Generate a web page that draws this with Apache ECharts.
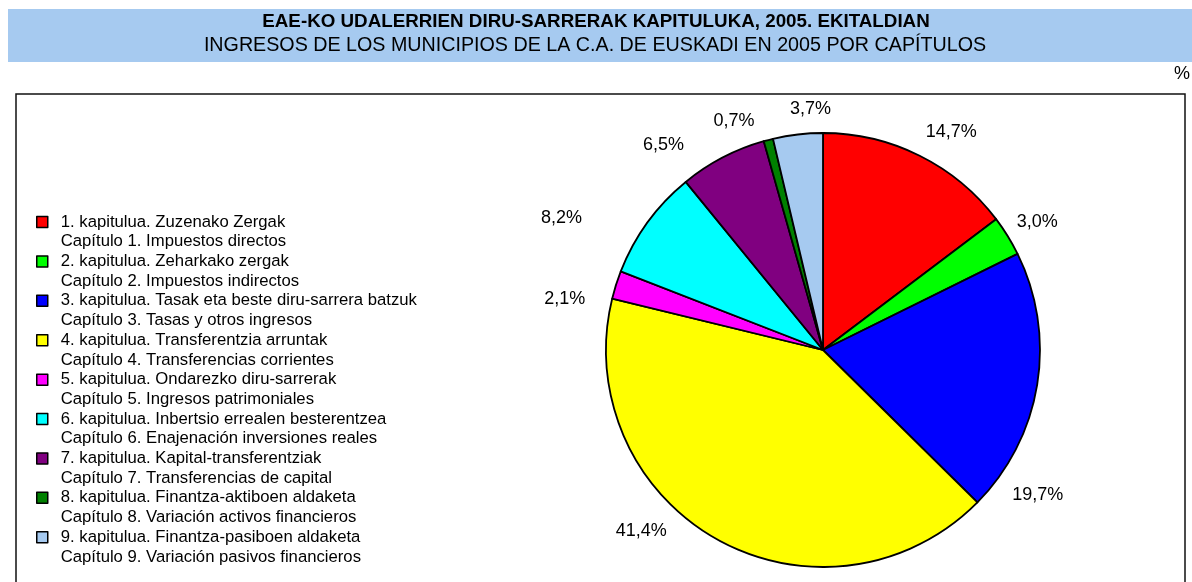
<!DOCTYPE html>
<html>
<head>
<meta charset="utf-8">
<script src="https://cdn.jsdelivr.net/npm/echarts@6/dist/echarts.min.js"></script>
<style>
  html, body { margin: 0; padding: 0; background: #fff; }
  #chart { width: 1192px; height: 582px; }
</style>
</head>
<body>
<div id="chart"></div>
<script>
// datos del grafico (porcentaje por capitulo)
var chapterEu = [
  '1. kapitulua. Zuzenako Zergak',
  '2. kapitulua. Zeharkako zergak',
  '3. kapitulua. Tasak eta beste diru-sarrera batzuk',
  '4. kapitulua. Transferentzia arruntak',
  '5. kapitulua. Ondarezko diru-sarrerak',
  '6. kapitulua. Inbertsio errealen besterentzea',
  '7. kapitulua. Kapital-transferentziak',
  '8. kapitulua. Finantza-aktiboen aldaketa',
  '9. kapitulua. Finantza-pasiboen aldaketa'
];
var chapterEs = [
  'Capítulo 1. Impuestos directos',
  'Capítulo 2. Impuestos indirectos',
  'Capítulo 3. Tasas y otros ingresos',
  'Capítulo 4. Transferencias corrientes',
  'Capítulo 5. Ingresos patrimoniales',
  'Capítulo 6. Enajenación inversiones reales',
  'Capítulo 7. Transferencias de capital',
  'Capítulo 8. Variación activos financieros',
  'Capítulo 9. Variación pasivos financieros'
];
var shares = [14.7, 3.0, 19.7, 41.4, 2.1, 8.2, 6.5, 0.7, 3.7];

var sliceColors = ['#ff0000', '#00ff00', '#0000ff', '#ffff00', '#ff00ff', '#00ffff', '#800080', '#008000', '#a6caf0'];
// desplazamiento manual de etiquetas (como en la hoja original)
var labelNudge = [[15, 9], [-2, 5], [-36, 105], [-58, -41], [-16, 25], [-56, 17], [-42, 20], [-25, 17], [17, 11]];

var FONT = 'Liberation Sans, Arial, sans-serif';
var esByName = {};
chapterEu.forEach(function (n, i) { esByName[n] = chapterEs[i]; });

var myChart = echarts.init(document.getElementById('chart'));

var pieData = shares.map(function (v, i) {
  return { name: chapterEu[i], value: v, itemStyle: { color: sliceColors[i] } };
});
var labelData = shares.map(function (v, i) {
  return { name: chapterEu[i], value: v, label: { offset: labelNudge[i] } };
});

var option = {
  animation: false,
  color: sliceColors,
  graphic: [
    { type: 'rect', shape: { x: 8, y: 9, width: 1184, height: 53 }, style: { fill: '#a6caf0' }, silent: true },
    { type: 'text', x: 596, y: 22, style: { text: 'EAE-KO UDALERRIEN DIRU-SARRERAK KAPITULUKA, 2005. EKITALDIAN', font: 'bold 18.8px ' + FONT, fill: '#000', align: 'center', verticalAlign: 'middle' } },
    { type: 'text', x: 595, y: 46, style: { text: 'INGRESOS DE LOS MUNICIPIOS DE LA C.A. DE EUSKADI EN 2005 POR CAPÍTULOS', font: '19.7px ' + FONT, fill: '#000', align: 'center', verticalAlign: 'middle' } },
    { type: 'text', x: 1182, y: 74, style: { text: '%', font: '18px ' + FONT, fill: '#000', align: 'center', verticalAlign: 'middle' } },
    { type: 'rect', z: -1, shape: { x: 16, y: 94, width: 1169, height: 520 }, style: { fill: '#fff', stroke: '#111', lineWidth: 1.5 }, silent: true }
  ],
  legend: {
    orient: 'vertical',
    left: 36,
    top: 192.5,
    padding: 0,
    itemWidth: 11,
    itemHeight: 11,
    itemGap: -19.7,
    icon: 'rect',
    selectedMode: false,
    itemStyle: { borderColor: '#000', borderWidth: 1.5 },
    data: chapterEu,
    // linea vacia arriba para que el cuadrado quede junto a la primera linea
    formatter: function (name) {
      return ' \n' + name + '\n' + esByName[name];
    },
    textStyle: {
      fontFamily: FONT,
      fontSize: 16.7,
      lineHeight: 19.7,
      color: '#000',
      padding: [0, 0, 0, 8]
    }
  },
  series: [
    {
      name: 'ingresos',
      type: 'pie',
      center: [823, 350],
      radius: 217,
      startAngle: 90,
      clockwise: true,
      silent: true,
      label: { show: false },
      labelLine: { show: false },
      itemStyle: { borderColor: '#000', borderWidth: 1.8 },
      data: pieData
    },
    {
      name: 'etiquetas',
      type: 'pie',
      center: [823, 350],
      radius: [217, 285],
      startAngle: 90,
      clockwise: true,
      silent: true,
      legendHoverLink: false,
      itemStyle: { color: 'rgba(0,0,0,0)', borderWidth: 0 },
      label: {
        show: true,
        position: 'inside',
        rotate: 0,
        fontFamily: FONT,
        fontSize: 18,
        color: '#000',
        formatter: function (p) {
          return p.value.toFixed(1).replace('.', ',') + '%';
        }
      },
      labelLine: { show: false },
      data: labelData
    }
  ]
};
myChart.setOption(option);
</script>
</body>
</html>
